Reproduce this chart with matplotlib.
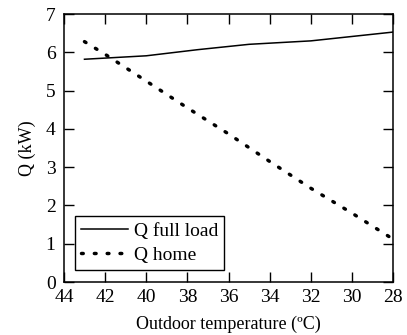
import matplotlib
matplotlib.use('Agg')
import matplotlib.pyplot as plt

# 讀取數據
temp_full = [43, 40, 37.5, 35, 32, 28]
q_full = [5.82, 5.91, 6.07, 6.21, 6.30, 6.53]

temp_home = [43, 42, 40, 38, 36, 34, 32, 30, 28]
q_home = [6.28, 5.95, 5.25, 4.55, 3.87, 3.15, 2.45, 1.80, 1.12]

xticks = [44, 42, 40, 38, 36, 34, 32, 30, 28]
yticks = [0, 1, 2, 3, 4, 5, 6, 7]

plt.rcParams['font.family'] = ['Liberation Serif', 'DejaVu Serif']
plt.rcParams['font.size'] = 14

fig = plt.figure(figsize=(4.07, 3.35), dpi=100)
ax = fig.add_axes([0.157, 0.158, 0.809, 0.800])

ax.plot(temp_full, q_full, color='black', lw=1.1, label='Q full load')
ax.plot(temp_home, q_home, color='black', lw=2.5, dashes=(0.5, 3.2),
        dash_capstyle='round', label='Q home')

ax.set_xlim(44, 28)
ax.set_ylim(0, 7)
ax.set_xticks(xticks)
ax.set_yticks(yticks)
ax.tick_params(direction='in', top=True, right=True, length=7, width=1)
ax.tick_params(axis='x', pad=5)
ax.tick_params(axis='y', pad=6)
for s in ax.spines.values():
    s.set_linewidth(1.1)

ax.set_xlabel('Outdoor temperature (ºC)', fontsize=13, labelpad=7)
ax.set_ylabel('Q (kW)', fontsize=13, labelpad=7)

leg = ax.legend(loc='lower left', bbox_to_anchor=(0.035, 0.045), fancybox=False,
                edgecolor='black', framealpha=1, borderpad=0.3, fontsize=14,
                handlelength=2.4, handletextpad=0.3, labelspacing=0.35, borderaxespad=0)
leg.get_frame().set_linewidth(1.0)

fig.savefig('out.png', dpi=100)
